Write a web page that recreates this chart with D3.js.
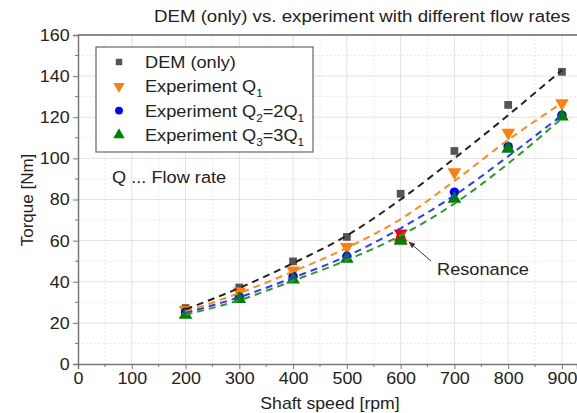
<!DOCTYPE html>
<html>
<head>
<meta charset="utf-8">
<script src="https://cdn.jsdelivr.net/npm/d3@7"></script>
<style>
  body { margin: 0; background: #fff; }
  text { font-family: "Liberation Sans", Arial, sans-serif; fill: #222; }
</style>
</head>
<body>
<div id="chart"></div>
<script>
// ***** data *****
var speeds = [200, 300, 400, 500, 600, 700, 800, 900];
var demOnly = [27.2, 37.2, 49.9, 61.8, 82.8, 103.6, 126, 142.1];
var expQ1 = [26.3, 35.3, 45.5, 56.9, 63.5, 93.3, 112.5, 126.8];
var expQ2 = [25.2, 32.5, 42.6, 52.4, 61.5, 83.6, 105.7, 121];
var expQ3 = [23.9, 31.6, 41, 51.2, 60, 80.3, 104.7, 120.3];
// dashed trend lines
var fitDem = [26.5, 37, 49, 62.5, 80, 100, 121, 143];
var fitQ1 = [25.5, 34.5, 45, 56.5, 70.5, 89, 109, 127];
var fitQ2 = [24.8, 32.5, 42, 52.5, 66, 82, 101, 121];
var fitQ3 = [24, 31, 40.5, 50.5, 62.5, 78, 97.5, 119.5];
var legendLabels = ["DEM (only)", "Experiment Q|1", "Experiment Q|2|=2Q|1", "Experiment Q|3|=3Q|1"];
var xTicks = [0, 100, 200, 300, 400, 500, 600, 700, 800, 900];
var yTicks = [0, 20, 40, 60, 80, 100, 120, 140, 160];
var resonanceSpeed = 600;

var svgWidth = 577;
var svgHeight = 413;
var margin = { top: 35, right: 0, bottom: 49, left: 78 };
var width = svgWidth - margin.left - margin.right;
var height = svgHeight - margin.top - margin.bottom;

var svg = d3.select("#chart").append("svg")
  .attr("width", svgWidth)
  .attr("height", svgHeight);

var x = d3.scaleLinear().domain([0, 928]).range([0, width]);
var y = d3.scaleLinear().domain([0, 160]).range([height, 0]);

// text that is a bit wider than the font, like the source picture
function wideText(parent, tx, ty, size, stretch, anchor) {
  return parent.append("text")
    .attr("transform", `translate(${tx}, ${ty}) scale(${stretch}, 1)`)
    .attr("font-size", size + "px")
    .attr("text-anchor", anchor || "start");
}

var g = svg.append("g")
  .attr("transform", `translate(${margin.left}, ${margin.top})`);

// grid
var minorX = d3.range(50, 928, 100);
var minorY = d3.range(10, 160, 20);
g.selectAll(".gminx").data(minorX).enter().append("line")
  .attr("x1", d => x(d)).attr("x2", d => x(d)).attr("y1", 0).attr("y2", height)
  .attr("stroke", "#ececec").attr("stroke-dasharray", "2,2");
g.selectAll(".gminy").data(minorY).enter().append("line")
  .attr("x1", 0).attr("x2", width).attr("y1", d => y(d)).attr("y2", d => y(d))
  .attr("stroke", "#ececec").attr("stroke-dasharray", "2,2");
g.selectAll(".gmajx").data(xTicks.slice(1)).enter().append("line")
  .attr("x1", d => x(d)).attr("x2", d => x(d)).attr("y1", 0).attr("y2", height)
  .attr("stroke", "#e2e2e2");
g.selectAll(".gmajy").data(yTicks.slice(1, -1)).enter().append("line")
  .attr("x1", 0).attr("x2", width).attr("y1", d => y(d)).attr("y2", d => y(d))
  .attr("stroke", "#e2e2e2");

// top frame
g.append("line").attr("x1", 0).attr("x2", width).attr("y1", 0).attr("y2", 0)
  .attr("stroke", "#8a8a8a").attr("stroke-width", 2);

// axes
var bottomAxis = d3.axisBottom(x).tickValues(xTicks).tickSize(5).tickPadding(3);
var leftAxis = d3.axisLeft(y).tickValues(yTicks).tickSize(5).tickPadding(3);
var xAxis = g.append("g").attr("transform", `translate(0, ${height})`).call(bottomAxis);
var yAxis = g.append("g").call(leftAxis);
[xAxis, yAxis].forEach(function(ax) {
  ax.select(".domain").attr("stroke", "#777").attr("stroke-width", 1.5);
  ax.selectAll(".tick line").attr("stroke", "#777");
  ax.selectAll("text").attr("font-size", "17px").attr("fill", "#222")
    .style("font-family", "'Liberation Sans', Arial, sans-serif");
});
xAxis.selectAll(".tick text").attr("transform", "scale(1.05, 1)");
yAxis.selectAll(".tick text").attr("transform", "scale(1.05, 1)");
g.selectAll(".mtx").data(minorX).enter().append("line")
  .attr("x1", d => x(d)).attr("x2", d => x(d)).attr("y1", height).attr("y2", height + 3)
  .attr("stroke", "#777");
g.selectAll(".mty").data(minorY).enter().append("line")
  .attr("x1", 0).attr("x2", -3).attr("y1", d => y(d)).attr("y2", d => y(d))
  .attr("stroke", "#777");

// axis titles
wideText(svg, 330, 409, 17, 1.04, "middle").text("Shaft speed [rpm]");
svg.append("text").attr("transform", "translate(33, 200) rotate(-90)")
  .attr("text-anchor", "middle").attr("font-size", "17px").text("Torque [Nm]");
wideText(svg, 362, 22, 17, 1.1, "middle").text("DEM (only) vs. experiment with different flow rates");

// series
var series = [
  { vals: demOnly, fit: fitDem, color: "#555555", line: "#222", shape: d3.symbolSquare, size: 60, rot: 0 },
  { vals: expQ1, fit: fitQ1, color: "#ff7f0e", line: "#ff8c1a", shape: d3.symbolTriangle, size: 80, rot: 180 },
  { vals: expQ2, fit: fitQ2, color: "#0000ff", line: "#2a3cff", shape: d3.symbolCircle, size: 70, rot: 0 },
  { vals: expQ3, fit: fitQ3, color: "#008000", line: "#2e9a2e", shape: d3.symbolTriangle, size: 80, rot: 0 }
];

var lineGen = d3.line().x((d, i) => x(speeds[i])).y(d => y(d)).curve(d3.curveMonotoneX);

series.forEach(function(s) {
  g.selectAll(null).data(s.vals).enter().append("path")
    .attr("d", d3.symbol().type(s.shape).size(s.size))
    .attr("transform", (d, i) => `translate(${x(speeds[i])}, ${y(d)}) rotate(${s.rot})`)
    .attr("fill", (d, i) => (speeds[i] === resonanceSpeed && s.color !== "#555555" && s.color !== "#008000") ? "#ff0000" : s.color)
    .attr("stroke", "none");
});
// resonance points: the circle is hidden behind a red triangle
g.selectAll(null).data([expQ2[4]]).enter().append("path")
  .attr("d", d3.symbol().type(d3.symbolTriangle).size(80))
  .attr("transform", d => `translate(${x(resonanceSpeed)}, ${y(d)})`)
  .attr("fill", "#ff0000");
g.selectAll(null).data([expQ3[4]]).enter().append("path")
  .attr("d", d3.symbol().type(d3.symbolTriangle).size(80))
  .attr("transform", d => `translate(${x(resonanceSpeed)}, ${y(d)})`)
  .attr("fill", "#008000");

series.forEach(function(s) {
  g.append("path").datum(s.fit)
    .attr("d", lineGen)
    .attr("fill", "none")
    .attr("stroke", s.line)
    .attr("stroke-width", 2)
    .attr("stroke-dasharray", "7,5");
});

// legend
var legend = svg.append("g");
legend.append("rect").attr("x", 96).attr("y", 47).attr("width", 217).attr("height", 105)
  .attr("fill", "#fff").attr("stroke", "#666").attr("stroke-width", 1.2);
legendLabels.forEach(function(lab, i) {
  var s = series[i];
  var ly = 62 + i * 24.3;
  legend.append("path")
    .attr("d", d3.symbol().type(s.shape).size(s.size * 0.7))
    .attr("transform", `translate(119, ${ly}) rotate(${s.rot})`)
    .attr("fill", s.color);
  var t = wideText(legend, 145, ly + 6, 17, 1.07);
  lab.split("|").forEach(function(part, k) {
    if (k % 2 === 1) {
      t.append("tspan").attr("font-size", "11px").attr("dy", 5).text(part);
    } else {
      t.append("tspan").attr("dy", k === 0 ? 0 : -5).text(part);
    }
  });
});

wideText(svg, 112, 183, 17, 1.07).text("Q ... Flow rate");

// resonance annotation
svg.append("defs").append("marker").attr("id", "ah").attr("viewBox", "0 0 10 10")
  .attr("refX", 9).attr("refY", 5).attr("markerWidth", 7).attr("markerHeight", 7)
  .attr("orient", "auto")
  .append("path").attr("d", "M0,1 L10,5 L0,9 Z").attr("fill", "#333");
svg.append("line").attr("x1", 431).attr("y1", 261).attr("x2", 409).attr("y2", 242)
  .attr("stroke", "#333").attr("stroke-width", 1).attr("marker-end", "url(#ah)");
wideText(svg, 437, 275, 17, 1.07).text("Resonance");
</script>
</body>
</html>
